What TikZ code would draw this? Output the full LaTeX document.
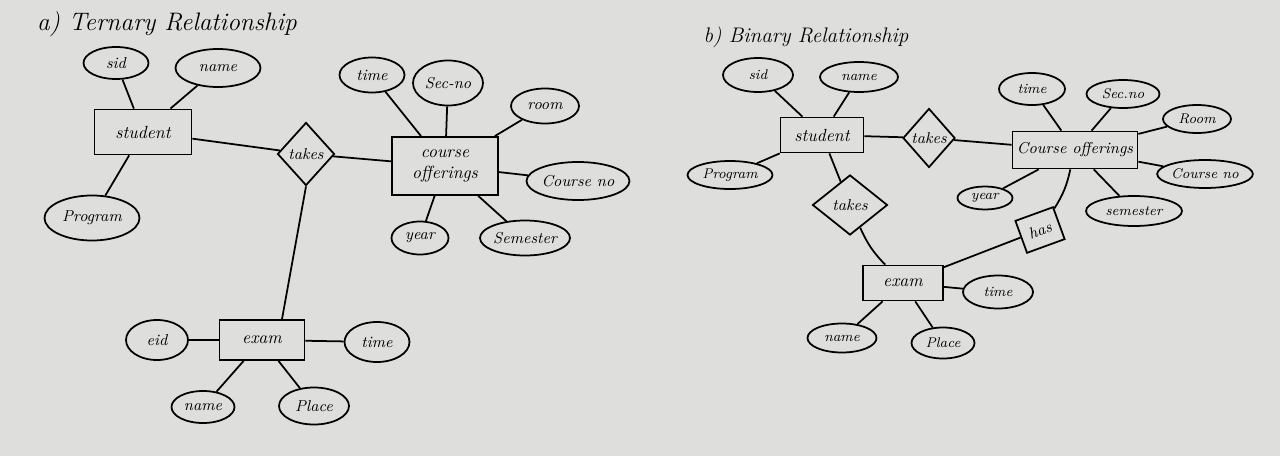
\documentclass[tikz,border=0pt]{standalone}
\usetikzlibrary{shapes.geometric}
\definecolor{paper}{RGB}{222,222,220}
\newcommand{\ztext}[1]{\makebox[0pt]{#1}}
\tikzset{
  entity/.style={draw, rectangle, inner sep=2pt, align=center},
  attr/.style={draw, ellipse, inner sep=0pt},
  rel/.style={draw, diamond, inner sep=0pt},
}
\begin{document}
\begin{tikzpicture}[x=0.02cm, y=-0.02cm, line width=1pt, font=\itshape]
\fill[paper] (0,0) rectangle (1280,456);
\useasboundingbox (0,0) rectangle (1280,456);

% a) ternary
\node[font=\Large\itshape] (aTitle) at (167,24) {a) Ternary Relationship};
\node[entity, minimum width=97*0.02cm, minimum height=45*0.02cm] (aStudent) at (143,132) {student};
\node[entity, minimum width=106*0.02cm, minimum height=58*0.02cm] (aCourse) at (445,166) {course\\offerings};
\node[entity, minimum width=85*0.02cm, minimum height=40*0.02cm] (aExam) at (262,340) {exam};
\node[rel, minimum width=57*0.02cm, minimum height=63*0.02cm, font=\small\itshape] (aTakes) at (306,154) {\ztext{takes}};
\foreach \n/\x/\y/\w/\h/\t in {aSid/116/63/65/32/sid, aName/218/68/85/38/name,
    aProgram/92/218/95/45/Program, aTime/372/75/65/35/time, aSecno/448/83/70/45/Sec-no,
    aRoom/545/106/68/35/room, aCourseno/578/181/95/38/Course no, aYear/420/238/57/33/year,
    aSemester/525/238/90/35/Semester, aEid/157/340/62/40/eid, aExtime/377/342/65/40/time,
    aExname/203/407/63/32/name, aPlace/314/406/70/37/Place}
  \node[attr, minimum width=\w*0.02cm, minimum height=\h*0.02cm, font=\small\itshape] (\n) at (\x,\y) {\t};
\foreach \p/\q in {aSid/aStudent, aName/aStudent, aProgram/aStudent, aStudent/aTakes,
    aTakes/aCourse, aTime/aCourse, aSecno/aCourse, aRoom/aCourse, aCourseno/aCourse,
    aYear/aCourse, aSemester/aCourse, aEid/aExam, aExtime/aExam, aExname/aExam, aPlace/aExam}
  \draw (\p) -- (\q);
\draw (aTakes.south) -- ([xshift=0.4cm]aExam.north);

% b) binary
\node[font=\large\itshape] (bTitle) at (806,37) {b) Binary Relationship};
\node[entity, minimum width=83*0.02cm, minimum height=35*0.02cm] (bStudent) at (822,135) {student};
\node[entity, minimum width=125*0.02cm, minimum height=37*0.02cm, font=\small\itshape] (bCourse) at (1075,150) {Course offerings};
\node[entity, minimum width=80*0.02cm, minimum height=35*0.02cm] (bExam) at (903,283) {exam};
\node[rel, minimum width=52*0.02cm, minimum height=59*0.02cm, font=\small\itshape] (bTakes) at (929,138) {\ztext{takes}};
\node[rel, minimum width=75*0.02cm, minimum height=60*0.02cm, font=\small\itshape] (bTakesex) at (850,205) {\ztext{takes}};
\node[entity, rotate=20, minimum width=40*0.02cm, minimum height=34*0.02cm, inner sep=0pt, font=\small\itshape] (bHas) at (1040,230) {has};
\foreach \n/\x/\y/\w/\h/\t in {bSid/758/75/70/34/sid, bName/859/77/78/30/name,
    bProgram/730/175/85/28/Program, bTime/1032/89/66/32/time, bSecno/1123/94/73/28/Sec.no,
    bRoom/1197/119/68/28/Room, bCourseno/1205/174/95/28/Course no, bSemester/1134/211/96/30/semester,
    bYear/985/198/55/23/year, bExtime/998/292/70/33/time, bExname/842/338/69/29/name,
    bPlace/943/343/63/31/Place}
  \node[attr, minimum width=\w*0.02cm, minimum height=\h*0.02cm, font=\footnotesize\itshape] (\n) at (\x,\y) {\t};
\foreach \p/\q in {bSid/bStudent, bName/bStudent, bProgram/bStudent, bStudent/bTakes,
    bTakes/bCourse, bStudent/bTakesex, bTime/bCourse, bSecno/bCourse, bRoom/bCourse,
    bCourseno/bCourse, bSemester/bCourse, bYear/bCourse, bHas/bExam, bExtime/bExam,
    bExname/bExam, bPlace/bExam}
  \draw (\p) -- (\q);
\draw (bTakesex) to[bend right=10] (bExam);
\draw (bCourse) to[bend left=10] (bHas);
\end{tikzpicture}
\end{document}
